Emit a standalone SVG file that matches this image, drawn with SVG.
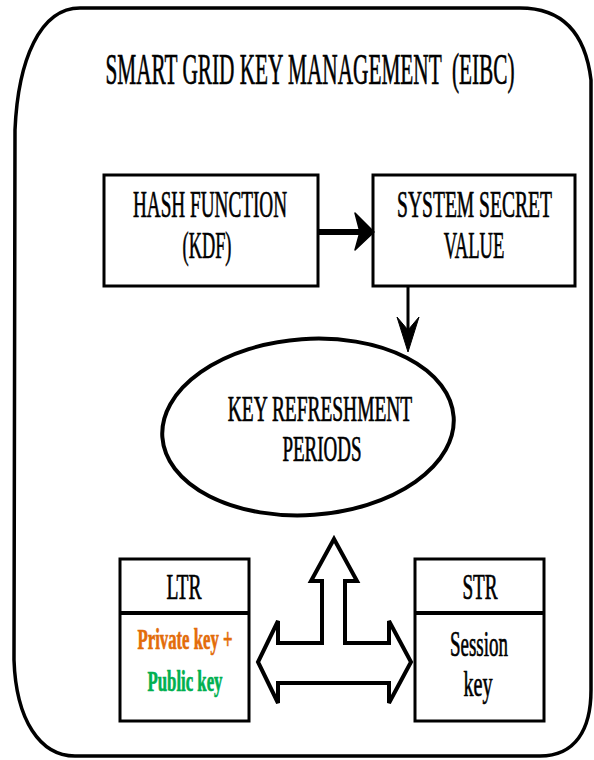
<svg xmlns="http://www.w3.org/2000/svg" width="594" height="760" viewBox="0 0 594 760">
<style>
.t{font-family:"Liberation Serif","Times New Roman",serif;fill:#000;stroke:#000;stroke-width:0.7;text-anchor:middle}
.box{fill:#fff;stroke:#000;stroke-width:3}
.b{font-weight:bold}
.or{fill:#E36C09;stroke:#E36C09}
.gr{fill:#00B050;stroke:#00B050}
</style>
<rect width="594" height="760" fill="#fff"/>
<g id="frame">
<path d="M80,8 L520,8 C560,8 585,30 591,80 L591,690 C591,730 575,756 540,756 L75,756 C40,756 16,720 14,660 L15,130 C18,60 40,8 80,8 Z" fill="#fff" stroke="#000" stroke-width="3.5"/>
<text class="t" xml:space="preserve" transform="translate(310,84) scale(0.473,1)" font-size="45">SMART GRID KEY MANAGEMENT  (EIBC)</text>
</g>
<g id="hash">
<rect class="box" x="104" y="175" width="214" height="111"/>
<text class="t" transform="translate(210,217) scale(0.505,1)" font-size="38">HASH FUNCTION</text>
<text class="t" transform="translate(207,258) scale(0.483,1)" font-size="38">(KDF)</text>
</g>
<g id="secret">
<rect class="box" x="373" y="175" width="202" height="111"/>
<text class="t" transform="translate(474.5,217) scale(0.515,1)" font-size="38">SYSTEM SECRET</text>
<text class="t" transform="translate(474,258) scale(0.49,1)" font-size="38">VALUE</text>
</g>
<g id="refresh">
<ellipse cx="308" cy="427" rx="146" ry="88" transform="rotate(-4 308 427)" fill="#fff" stroke="#000" stroke-width="4"/>
<text class="t" transform="translate(320,421) scale(0.555,1)" font-size="35">KEY REFRESHMENT</text>
<text class="t" transform="translate(322,461) scale(0.542,1)" font-size="35">PERIODS</text>
</g>
<g id="ltr">
<rect class="box" x="120" y="559" width="129" height="162"/>
<line x1="120" y1="613" x2="249" y2="613" stroke="#000" stroke-width="4"/>
<text class="t" transform="translate(184,599) scale(0.558,1)" font-size="35">LTR</text>
<text class="t b or" transform="translate(185,649) scale(0.557,1)" font-size="30">Private key +</text>
<text class="t b gr" transform="translate(185,691) scale(0.559,1)" font-size="30">Public key</text>
</g>
<g id="str">
<rect class="box" x="415" y="559" width="129" height="162"/>
<line x1="415" y1="613" x2="544" y2="613" stroke="#000" stroke-width="4"/>
<text class="t" transform="translate(480,599) scale(0.549,1)" font-size="35">STR</text>
<text class="t" transform="translate(479,656) scale(0.527,1)" font-size="36">Session</text>
<text class="t" transform="translate(478,696) scale(0.56,1)" font-size="36">key</text>
</g>
<g id="connectors">
<line x1="318" y1="232" x2="360" y2="232" stroke="#000" stroke-width="6"/>
<polygon points="374,232 355,213 360,232 355,250" fill="#000" stroke="#000" stroke-width="1.5" stroke-linejoin="round"/>
<line x1="408" y1="286" x2="408" y2="330" stroke="#000" stroke-width="3"/>
<polygon points="408,352 397,317 408,330 419,317" fill="#000" stroke="#000" stroke-width="1" stroke-linejoin="round"/>
<path d="M334,539 L357,581 L345,581 L345,643 L389,643 L389,621 L411,662 L389,703 L389,683 L278,683 L278,703 L258,662 L278,621 L278,643 L322,643 L322,581 L311,581 Z" fill="#fff" stroke="#000" stroke-width="4" stroke-linejoin="miter"/>
</g>
</svg>
